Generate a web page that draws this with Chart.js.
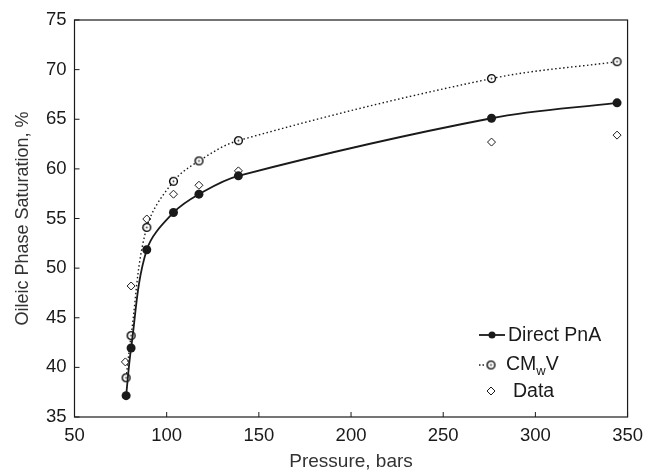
<!DOCTYPE html>
<html>
<head>
<meta charset="utf-8">
<script src="https://cdn.jsdelivr.net/npm/chart.js@4"></script>
<style>
  html, body { margin: 0; padding: 0; background: #fff; }
  #wrap { width: 651px; height: 474px; }
</style>
</head>
<body>
<div id="wrap"><canvas id="chart" width="651" height="474"></canvas></div>
<script>
// pressure in bars
var pressure = [78, 80.7, 89.2, 103.7, 117.5, 138.9, 276.2, 344.3];
var directPnA = [37.15, 41.95, 51.85, 55.6, 57.45, 59.3, 65.1, 66.65];
var cmwv = [38.95, 43.2, 54.1, 58.75, 60.8, 62.85, 69.1, 70.8];
var dataPressure = [77.6, 80.7, 89.2, 103.7, 117.5, 138.9, 276.2, 344.3];
var dataSat = [40.55, 48.2, 54.95, 57.45, 58.35, 59.8, 62.7, 63.4];

var FONT = '"Liberation Sans", Arial, sans-serif';
var INK = '#1a1a1a';

function toPoints(xs, ys) {
  return xs.map(function (x, i) { return { x: x, y: ys[i] }; });
}

// open circle with a dot inside
function dotCircle() {
  var c = document.createElement('canvas');
  c.width = 11; c.height = 11;
  var g = c.getContext('2d');
  g.fillStyle = '#fff';
  g.strokeStyle = '#000';
  g.lineWidth = 1.4;
  g.beginPath(); g.arc(5.5, 5.5, 3.9, 0, Math.PI * 2); g.fill(); g.stroke();
  g.fillStyle = '#333';
  g.beginPath(); g.arc(5.5, 5.5, 0.9, 0, Math.PI * 2); g.fill();
  return c;
}
var circleImg = dotCircle();

// box + inward ticks
var frame = {
  id: 'frame',
  afterDatasetsDraw: function (chart) {
    var ctx = chart.ctx, a = chart.chartArea;
    ctx.save();
    ctx.strokeStyle = INK;
    ctx.lineWidth = 1.2;
    ctx.strokeRect(a.left, a.top, a.right - a.left, a.bottom - a.top);
    ctx.lineWidth = 1;
    chart.scales.x.ticks.forEach(function (t) {
      var px = chart.scales.x.getPixelForValue(t.value);
      ctx.beginPath(); ctx.moveTo(px, a.bottom); ctx.lineTo(px, a.bottom - 5); ctx.stroke();
    });
    chart.scales.y.ticks.forEach(function (t) {
      var py = chart.scales.y.getPixelForValue(t.value);
      ctx.beginPath(); ctx.moveTo(a.left, py); ctx.lineTo(a.left + 5, py); ctx.stroke();
    });
    ctx.restore();
  }
};

// legend inside the plot, lower right
var legendBox = {
  id: 'legendBox',
  afterDraw: function (chart) {
    var ctx = chart.ctx;
    ctx.save();
    ctx.fillStyle = INK;
    ctx.strokeStyle = INK;
    ctx.textBaseline = 'middle';
    ctx.font = '19.5px ' + FONT;

    // Direct PnA
    ctx.lineWidth = 1.8;
    ctx.beginPath(); ctx.moveTo(479, 335); ctx.lineTo(505, 335); ctx.stroke();
    ctx.beginPath(); ctx.arc(492, 335, 3.5, 0, Math.PI * 2); ctx.fill();
    ctx.fillText('Direct PnA', 508, 336);

    // CMwV
    ctx.lineWidth = 1.3;
    ctx.setLineDash([1.5, 2]);
    ctx.beginPath(); ctx.moveTo(479, 365); ctx.lineTo(486, 365); ctx.stroke();
    ctx.setLineDash([]);
    ctx.drawImage(circleImg, 485.5, 359.5);
    var x = 506;
    ctx.fillText('CM', x, 365); x += ctx.measureText('CM').width;
    ctx.font = '13px ' + FONT;
    ctx.fillText('w', x, 371); x += ctx.measureText('w').width;
    ctx.font = '19.5px ' + FONT;
    ctx.fillText('V', x, 365);

    // Data
    ctx.lineWidth = 1;
    ctx.fillStyle = '#fff';
    ctx.beginPath();
    ctx.moveTo(491, 387); ctx.lineTo(495, 391); ctx.lineTo(491, 395); ctx.lineTo(487, 391); ctx.closePath();
    ctx.fill(); ctx.stroke();
    ctx.fillStyle = INK;
    ctx.fillText('Data', 513, 392);
    ctx.restore();
  }
};

new Chart(document.getElementById('chart'), {
  type: 'line',
  data: {
    datasets: [
      {
        label: 'Direct PnA',
        data: toPoints(pressure, directPnA),
        borderColor: INK,
        backgroundColor: INK,
        borderWidth: 1.8,
        pointRadius: 4.5,
        pointBorderWidth: 0,
        tension: 0.35
      },
      {
        label: 'CMwV',
        data: toPoints(pressure, cmwv),
        borderColor: INK,
        borderWidth: 1.4,
        borderDash: [1.5, 2.5],
        pointStyle: circleImg,
        tension: 0.35
      },
      {
        label: 'Data',
        data: toPoints(dataPressure, dataSat),
        showLine: false,
        pointStyle: 'rectRot',
        pointRadius: 4,
        pointBorderWidth: 1,
        borderColor: INK,
        backgroundColor: '#fff'
      }
    ]
  },
  options: {
    responsive: false,
    animation: false,
    layout: { padding: { top: 20, right: 17, left: 0, bottom: 0 } },
    plugins: {
      legend: { display: false },
      tooltip: { enabled: false }
    },
    scales: {
      x: {
        type: 'linear',
        min: 50, max: 350,
        ticks: { stepSize: 50, color: INK, font: { family: FONT, size: 18.5 }, padding: 8 },
        grid: { display: false, drawTicks: false },
        border: { display: false },
        title: { display: true, text: 'Pressure, bars', color: '#333', font: { family: FONT, size: 19 }, padding: { top: 4, bottom: 1 } },
        afterFit: function (s) { s.height = 57; }
      },
      y: {
        min: 35, max: 75,
        ticks: { stepSize: 5, color: INK, font: { family: FONT, size: 18.5 }, padding: 8 },
        grid: { display: false, drawTicks: false },
        border: { display: false },
        title: { display: true, text: 'Oileic Phase Saturation, %', color: '#333', font: { family: FONT, size: 18 }, padding: { top: 12, bottom: 4 } },
        afterFit: function (s) { s.width = 74.5; }
      }
    }
  },
  plugins: [frame, legendBox]
});
</script>
</body>
</html>
